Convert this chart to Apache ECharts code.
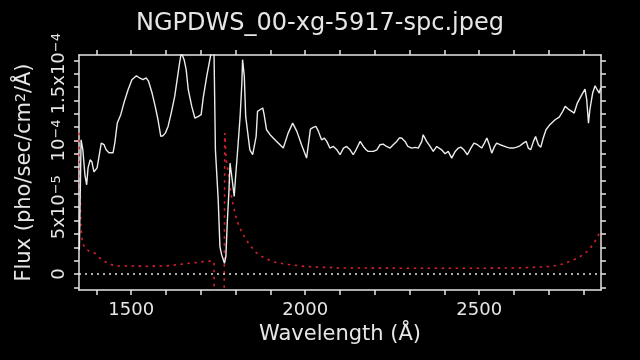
<!DOCTYPE html>
<html>
<head>
<meta charset="utf-8">
<script src="https://cdn.jsdelivr.net/npm/echarts@6/dist/echarts.min.js"></script>
<style>
html,body{margin:0;padding:0;background:#000;}
#chart{width:640px;height:360px;}
</style>
</head>
<body>
<div id="chart"></div>
<script>
// ---- data (flux in units of 1e-5 pho/sec/cm^2/Å) ----
const fluxWave = [1351,1356,1361,1367,1372,1376,1382,1387,1393,1402,1414,1422,1428,1436,1448,1453,1460,1470,1479,1491,1502,1515,1524,1534,1543,1550,1560,1569,1577,1585,1591,1598,1606,1615,1625,1632,1639,1644,1652,1658,1664,1674,1683,1693,1701,1707,1717,1726,1734,1737,1742,1750,1755,1760,1768,1772,1776,1781,1784,1789,1796,1800,1806,1813,1818,1820,1825,1829,1835,1841,1849,1854,1859,1863,1870,1878,1882,1889,1899,1918,1937,1951,1964,1976,1990,2004,2015,2023,2031,2038,2047,2055,2062,2071,2081,2091,2100,2110,2119,2129,2138,2146,2158,2167,2175,2181,2196,2206,2215,2224,2234,2244,2253,2263,2270,2277,2287,2295,2306,2316,2325,2335,2339,2349,2359,2368,2378,2383,2392,2402,2411,2421,2431,2440,2447,2456,2466,2476,2485,2495,2507,2515,2522,2529,2536,2543,2550,2560,2569,2579,2589,2598,2608,2617,2627,2635,2641,2648,2656,2662,2670,2677,2684,2692,2703,2718,2730,2740,2747,2756,2766,2773,2782,2795,2804,2809,2814,2818,2826,2833,2839,2845,2849];
const fluxVal = [1.80,10.05,9.3,7.43,6.68,7.95,8.55,8.4,7.65,7.95,9.8,9.68,9.3,9.08,9.08,9.83,11.3,11.93,12.8,13.8,14.55,14.85,14.68,14.55,14.68,14.42,13.55,12.55,11.55,10.3,10.35,10.55,11.05,12.05,13.3,14.55,15.8,16.6,16.05,15.3,13.8,12.55,11.68,11.8,11.93,13.2,14.8,16.05,17.2,18.3,9.3,5.55,2.05,1.43,0.8,1.3,3.8,6.3,8.3,7.3,5.8,7.3,9.3,11.8,14.3,16.05,14.8,11.8,10.55,9.3,8.93,8.93,10.3,12.18,12.3,12.43,11.93,10.8,10.43,9.93,9.43,10.55,11.3,10.68,9.64,8.68,10.85,10.98,11.05,10.68,10.05,10.18,9.93,9.43,9.55,9.3,8.93,9.43,9.55,9.3,8.93,9.3,9.93,9.55,9.3,9.18,9.18,9.3,9.68,9.73,9.55,9.43,9.68,9.93,10.18,10.18,9.93,9.55,9.43,9.48,9.43,9.93,10.43,9.93,9.55,9.18,9.55,9.68,9.3,9.0,9.18,8.68,9.18,9.43,9.5,9.3,8.93,9.43,9.8,9.68,9.43,9.8,10.18,9.68,9.05,9.5,9.8,9.68,9.6,9.5,9.43,9.43,9.5,9.6,9.8,9.93,9.43,9.3,9.93,10.3,9.68,9.5,10.18,10.8,11.18,11.55,11.75,12.18,12.55,12.35,12.18,12.05,12.8,13.43,13.85,13.05,11.3,12.3,13.55,14.1,13.8,13.55,13.93];

const errWave = [1350,1353,1355,1360,1368,1381,1396,1410,1425,1444,1463,1500,1550,1600,1650,1690,1720,1738,1745,1763,1769,1773,1778,1783,1790,1800,1810,1825,1840,1860,1880,1910,1950,2000,2050,2100,2300,2500,2600,2650,2680,2700,2720,2740,2760,2780,2800,2815,2830,2840,2850];
const errVal = [10.58,7.58,3.55,2.3,1.93,1.67,1.55,1.18,0.92,0.68,0.6,0.6,0.58,0.6,0.75,0.86,0.98,0.94,-30,-30,10.55,8.55,7.8,6.68,5.55,4.35,3.55,2.8,2.18,1.58,1.24,0.9,0.71,0.56,0.5,0.45,0.43,0.43,0.45,0.49,0.53,0.56,0.64,0.75,0.94,1.16,1.46,1.8,2.33,2.78,3.3];

const xTickValues = [1400,1500,1600,1700,1800,1900,2000,2100,2200,2300,2400,2500,2600,2700,2800];
const xLabelValues = [1500,2000,2500];
const yTickValues = [-1,0,1,2,3,4,5,6,7,8,9,10,11,12,13,14,15,16];
const yLabelValues = [0,5,10,15];
const yLabelTexts = ['0','5x10{s|−5}','10{s|−4}','1.5x10{s|−4}'];

const titleText = 'NGPDWS_00-xg-5917-spc.jpeg';
const xName = 'Wavelength (Å)';
const yName = 'Flux (pho/sec/cm{s|2}/Å)';

// ---- build ----
const FG = '#e6e6e6';
const FONT = 'DejaVu Sans';
const fluxData = fluxWave.map((w, i) => [w, fluxVal[i]]);
const errData = errWave.map((w, i) => [w, errVal[i]]);

function xAxisDef(pos, labels) {
  return {
    type: 'value', position: pos, min: 1350, max: 2850,
    axisLine: { show: true, onZero: false, lineStyle: { color: FG, width: 1.5 } },
    axisTick: { show: true, inside: false, length: 5, customValues: xTickValues, lineStyle: { color: FG, width: 1.5 } },
    axisLabel: labels ? { show: true, customValues: xLabelValues, color: FG, fontSize: 18, fontFamily: FONT, margin: 11,
      formatter: function (v) { return String(Math.round(v)); } } : { show: false },
    splitLine: { show: false },
    name: labels ? xName : '',
    nameLocation: 'middle', nameGap: 33,
    nameTextStyle: { color: FG, fontSize: 21, fontFamily: FONT }
  };
}
function yAxisDef(pos, labels) {
  return {
    type: 'value', position: pos, min: -1.2, max: 16.4,
    axisLine: { show: true, onZero: false, lineStyle: { color: FG, width: 1.5 } },
    axisTick: { show: true, inside: false, length: 5, customValues: yTickValues, lineStyle: { color: FG, width: 1.5 } },
    axisLabel: labels ? {
      show: true, customValues: yLabelValues, rotate: 90, color: FG, fontSize: 18, fontFamily: FONT, margin: 11,
      formatter: function (v) { const k = yLabelValues.indexOf(Math.round(v)); return k >= 0 ? yLabelTexts[k] : ''; },
      rich: { s: { fontSize: 13, fontFamily: FONT, color: FG, verticalAlign: 'top', lineHeight: 14 } }
    } : { show: false },
    splitLine: { show: false },
    name: labels ? yName : '',
    nameLocation: 'middle', nameGap: 44,
    nameTextStyle: { color: FG, fontSize: 21, fontFamily: FONT,
      rich: { s: { fontSize: 14, fontFamily: FONT, color: FG, verticalAlign: 'top', lineHeight: 15 } } }
  };
}

const chart = echarts.init(document.getElementById('chart'), null, { renderer: 'canvas' });
chart.setOption({
  backgroundColor: '#000',
  animation: false,
  title: {
    text: titleText, left: 'center', top: 7,
    textStyle: { color: FG, fontSize: 24, fontWeight: 'normal', fontFamily: FONT }
  },
  grid: { left: 79, right: 39, top: 55, bottom: 70, containLabel: false },
  xAxis: [xAxisDef('bottom', true), xAxisDef('top', false)],
  yAxis: [yAxisDef('left', true), yAxisDef('right', false)],
  series: [
    {
      type: 'line', data: errData, xAxisIndex: 0, yAxisIndex: 0,
      symbol: 'none', clip: true,
      lineStyle: { color: '#d4202c', width: 1.6, type: [2.5, 4.5] },
      markLine: {
        silent: true, symbol: 'none', label: { show: false },
        lineStyle: { color: FG, width: 1.5, type: [2, 4] },
        data: [{ yAxis: 0 }]
      }
    },
    {
      type: 'line', data: fluxData, xAxisIndex: 0, yAxisIndex: 0,
      symbol: 'none', clip: true,
      lineStyle: { color: '#ececec', width: 1.4 }
    }
  ]
});
</script>
</body>
</html>
